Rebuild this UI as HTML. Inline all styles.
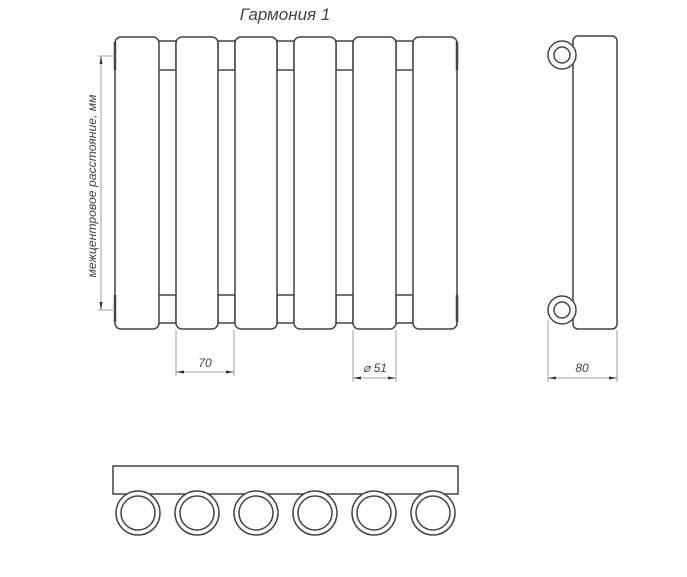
<!DOCTYPE html>
<html><head><meta charset="utf-8"><style>
html,body{margin:0;padding:0;background:#fff;}
svg{display:block;}
text{font-family:"Liberation Sans",sans-serif;font-style:italic;fill:#444;}
</style></head><body>
<svg width="687" height="577" viewBox="0 0 687 577" xmlns="http://www.w3.org/2000/svg">
<text x="285" y="20" font-size="17" text-anchor="middle">Гармония 1</text>
<g fill="#fff" stroke="#444" stroke-width="1.5">
<rect x="158" y="41" width="18" height="29"/><rect x="218" y="41" width="17" height="29"/><rect x="277" y="41" width="17" height="29"/><rect x="336" y="41" width="17" height="29"/><rect x="396" y="41" width="17" height="29"/>
<rect x="158" y="295" width="18" height="28"/><rect x="218" y="295" width="17" height="28"/><rect x="277" y="295" width="17" height="28"/><rect x="336" y="295" width="17" height="28"/><rect x="396" y="295" width="17" height="28"/>
<rect x="115" y="37" width="44" height="292" rx="6"/>
<rect x="176" y="37" width="42" height="292" rx="6"/>
<rect x="235" y="37" width="42" height="292" rx="6"/>
<rect x="294" y="37" width="42" height="292" rx="6"/>
<rect x="353" y="37" width="43" height="292" rx="6"/>
<rect x="413" y="37" width="44" height="292" rx="6"/>
</g>
<g stroke="#444" stroke-width="2.5">
<line x1="115" y1="42" x2="115" y2="70"/><line x1="457" y1="42" x2="457" y2="70"/>
<line x1="115" y1="295" x2="115" y2="322"/><line x1="457" y1="295" x2="457" y2="322"/>
</g>
<g stroke="#888" stroke-width="0.8" fill="none">
<line x1="98" y1="56" x2="115" y2="56"/><line x1="98" y1="310" x2="115" y2="310"/>
<line x1="101" y1="56" x2="101" y2="310"/>
<line x1="176" y1="330" x2="176" y2="376"/><line x1="234" y1="330" x2="234" y2="376"/>
<line x1="176" y1="372" x2="234" y2="372"/>
<line x1="353" y1="330" x2="353" y2="382"/><line x1="396" y1="330" x2="396" y2="382"/>
<line x1="353" y1="378" x2="396" y2="378"/>
<line x1="548" y1="320" x2="548" y2="382"/><line x1="617" y1="330" x2="617" y2="382"/>
<line x1="548" y1="378" x2="617" y2="378"/>
</g>
<g fill="#333">
<path d="M101 56 l-1.5 8 h3z"/><path d="M101 310 l-1.5 -8 h3z"/>
<path d="M176 372 l8 -1.5 v3z"/><path d="M234 372 l-8 -1.5 v3z"/>
<path d="M353 378 l8 -1.5 v3z"/><path d="M396 378 l-8 -1.5 v3z"/>
<path d="M548 378 l8 -1.5 v3z"/><path d="M617 378 l-8 -1.5 v3z"/>
</g>
<text x="205" y="367" font-size="12" text-anchor="middle">70</text>
<text x="375" y="372" font-size="12" text-anchor="middle">⌀ 51</text>
<text x="582" y="372" font-size="12" text-anchor="middle">80</text>
<text transform="translate(96,186) rotate(-90)" font-size="12" text-anchor="middle" textLength="183" lengthAdjust="spacingAndGlyphs">межцентровое расстояние, мм</text>
<g fill="#fff" stroke="#444" stroke-width="1.5">
<rect x="573" y="36" width="44" height="293" rx="5"/>
<circle cx="562" cy="55" r="14"/><circle cx="562" cy="55" r="8"/>
<circle cx="562" cy="310" r="14"/><circle cx="562" cy="310" r="8"/>
</g>
<g fill="#fff" stroke="#444" stroke-width="1.5">
<rect x="113" y="466" width="345" height="28"/>
<circle cx="138" cy="513" r="22"/><circle cx="138" cy="513" r="17"/>
<circle cx="197" cy="513" r="22"/><circle cx="197" cy="513" r="17"/>
<circle cx="256" cy="513" r="22"/><circle cx="256" cy="513" r="17"/>
<circle cx="315" cy="513" r="22"/><circle cx="315" cy="513" r="17"/>
<circle cx="374" cy="513" r="22"/><circle cx="374" cy="513" r="17"/>
<circle cx="433" cy="513" r="22"/><circle cx="433" cy="513" r="17"/>
</g>
</svg>
</body></html>
